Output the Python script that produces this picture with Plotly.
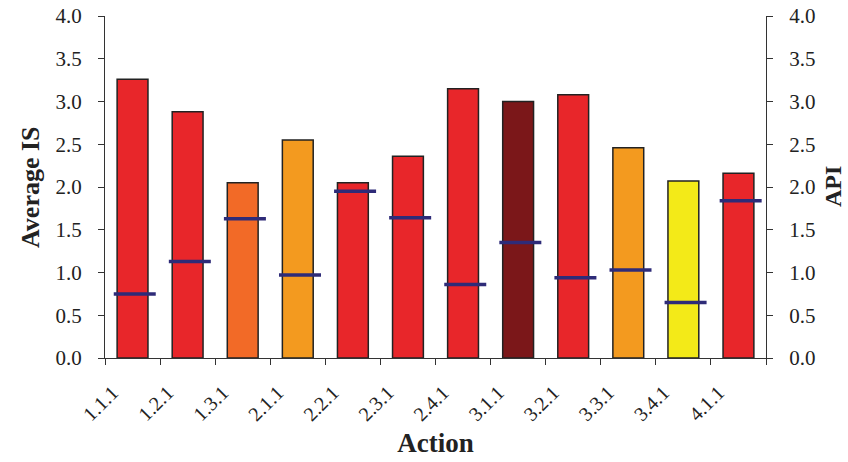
import plotly.graph_objects as go

actions = ["1.1.1", "1.2.1", "1.3.1", "2.1.1", "2.2.1", "2.3.1", "2.4.1",
           "3.1.1", "3.2.1", "3.3.1", "3.4.1", "4.1.1"]
average_is = [3.26, 2.88, 2.05, 2.55, 2.05, 2.36, 3.15, 3.00, 3.08, 2.46, 2.07, 2.16]
api = [0.75, 1.13, 1.63, 0.97, 1.95, 1.64, 0.86, 1.35, 0.94, 1.03, 0.65, 1.84]
bar_colors = ["#E8262A", "#E8262A", "#F26A27", "#F39A1F", "#E8262A", "#E8262A",
              "#E8262A", "#7B1719", "#E8262A", "#F39A1F", "#F3EA18", "#E8262A"]
y_ticks = [0.0, 0.5, 1.0, 1.5, 2.0, 2.5, 3.0, 3.5, 4.0]

FONT = "Liberation Serif, Times New Roman, serif"
TXT = "#222222"

fig = go.Figure()
fig.add_trace(go.Bar(
    x=actions, y=average_is,
    marker=dict(color=bar_colors, line=dict(color="#222222", width=1.5)),
    showlegend=False,
))
fig.add_trace(go.Scatter(
    x=actions, y=api, xaxis="x2", yaxis="y2", mode="markers",
    marker=dict(symbol="line-ew", size=30, line=dict(color="#2E2B78", width=3.5)),
    showlegend=False,
))

n = len(actions)
axis_common = dict(
    range=[0, 4], tickvals=y_ticks, tickformat=".1f",
    ticks="outside", ticklen=6, tickcolor="#333333",
    showline=True, linecolor="#333333", linewidth=1,
    showgrid=False, zeroline=False, automargin=False,
    ticklabelstandoff=12,
    tickfont=dict(family=FONT, size=21, color=TXT),
)

fig.update_layout(
    width=848, height=462,
    margin=dict(l=105, r=82, t=16, b=104),
    plot_bgcolor="white", paper_bgcolor="white",
    bargap=0.44,
    font=dict(family=FONT, color=TXT),
    xaxis=dict(
        type="category", range=[-0.5, n - 0.5],
        tickangle=-45, tickson="boundaries",
        ticks="outside", ticklen=6, tickcolor="#333333",
        showline=True, linecolor="#333333", linewidth=1,
        automargin=False,
        tickfont=dict(family=FONT, size=20, color=TXT),
        ticklabelshift=-20, ticklabelstandoff=14,
        title=dict(text="<b>Action</b>", font=dict(family=FONT, size=27, color=TXT), standoff=8),
    ),
    xaxis2=dict(
        type="category", overlaying="x", visible=False,
        range=[-0.5 - 0.04, n - 0.5 - 0.04], categoryarray=actions,
    ),
    yaxis=dict(**axis_common),
    yaxis2=dict(**axis_common, overlaying="y", side="right"),
    annotations=[
        dict(text="<b>Average IS</b>", xref="paper", yref="paper", x=-0.1135, y=0.5,
             xanchor="center", yanchor="middle", textangle=-90, showarrow=False,
             font=dict(family=FONT, size=26, color=TXT)),
        dict(text="<b>API</b>", xref="paper", yref="paper", x=(833 - 105) / 661, y=0.5,
             xanchor="center", yanchor="middle", textangle=-90, showarrow=False,
             font=dict(family=FONT, size=24, color=TXT)),
    ],
)

fig.write_html("out.html", config={"displayModeBar": False},
               post_script="document.body.style.margin='0';")
